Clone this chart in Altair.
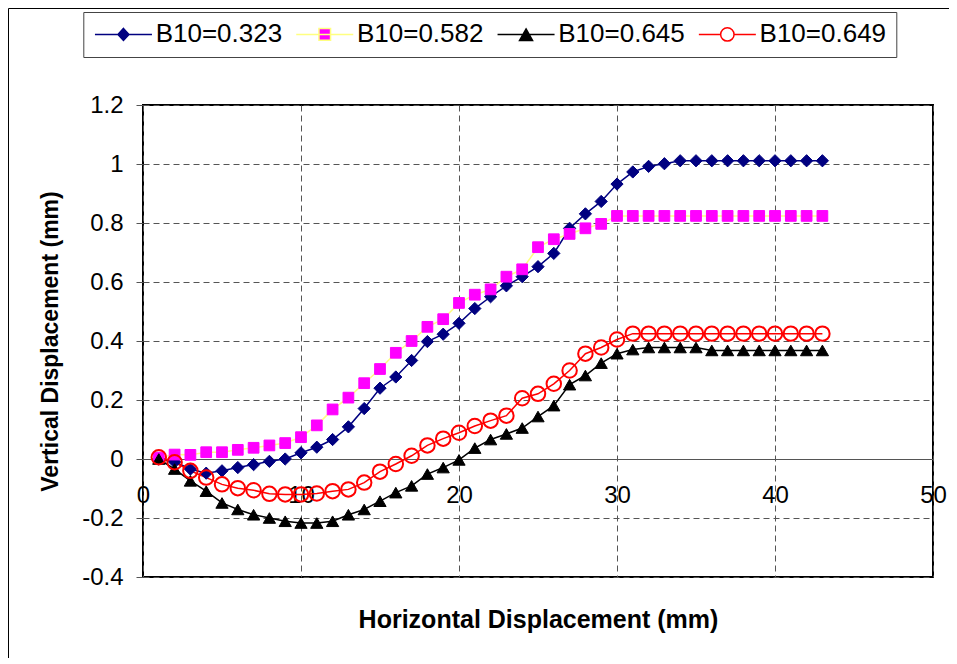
import altair as alt
import pandas as pd

series_names = ["B10=0.323", "B10=0.582", "B10=0.645", "B10=0.649"]
x_vals = list(range(1, 44))

b323 = [0.0, -0.01, -0.034, -0.048, -0.04, -0.029, -0.019, -0.008, 0.0, 0.021,
        0.04, 0.066, 0.109, 0.171, 0.24, 0.278, 0.334, 0.398, 0.423, 0.46,
        0.51, 0.55, 0.587, 0.618, 0.652, 0.697, 0.782, 0.831, 0.873, 0.932,
        0.973, 0.992, 1.001, 1.011, 1.011, 1.011, 1.011, 1.011, 1.011, 1.011,
        1.011, 1.011, 1.011]
b582 = [0.005, 0.015, 0.014, 0.023, 0.023, 0.031, 0.038, 0.046, 0.054, 0.074,
        0.114, 0.168, 0.208, 0.257, 0.305, 0.36, 0.4, 0.448, 0.474, 0.529,
        0.557, 0.575, 0.618, 0.643, 0.718, 0.745, 0.763, 0.782, 0.797, 0.824,
        0.824, 0.824, 0.824, 0.824, 0.824, 0.824, 0.824, 0.824, 0.824, 0.824,
        0.824, 0.824, 0.824]
b645 = [0.0, -0.034, -0.074, -0.109, -0.149, -0.171, -0.189, -0.2, -0.211, -0.217,
        -0.217, -0.211, -0.189, -0.171, -0.143, -0.114, -0.091, -0.051, -0.029, -0.003,
        0.037, 0.066, 0.085, 0.105, 0.144, 0.181, 0.252, 0.283, 0.325, 0.357,
        0.371, 0.378, 0.378, 0.378, 0.378, 0.368, 0.368, 0.368, 0.368, 0.368,
        0.368, 0.368, 0.368]
b649 = [0.006, -0.011, -0.04, -0.063, -0.086, -0.099, -0.106, -0.118, -0.12, -0.12,
        -0.117, -0.109, -0.103, -0.08, -0.043, -0.017, 0.011, 0.046, 0.069, 0.089,
        0.112, 0.13, 0.147, 0.206, 0.221, 0.255, 0.3, 0.357, 0.378, 0.405,
        0.425, 0.425, 0.425, 0.425, 0.425, 0.425, 0.425, 0.425, 0.425, 0.425,
        0.425, 0.425, 0.425]

x_ticks = [0, 10, 20, 30, 40, 50]
y_ticks = [-0.4, -0.2, 0, 0.2, 0.4, 0.6, 0.8, 1.0, 1.2]

line_colors = ["#000080", "#FFFF80", "#000000", "#FF0000"]
marker_fill = ["#000080", "#FF00FF", "#000000", "transparent"]
marker_stroke = ["#000080", "#FF00FF", "#000000", "#FF0000"]
marker_shapes = ["diamond", "square", "triangle-up", "circle"]
marker_sizes = [150, 115, 150, 210]
marker_strokew = [1, 1, 1, 2]

# legend symbols: line + marker (path units of r = 10 px)
legend_paths = [
    "M-2.85,0H2.85M0,-0.6L0.55,0L0,0.6L-0.55,0Z",
    "M-2.85,0H2.85M-0.58,-0.58H0.58V0.58H-0.58Z",
    "M-2.85,0H2.85M0,-0.55L0.65,0.6H-0.65Z",
    "M-2.85,0H-0.67M0.67,0H2.85M0.67,0A0.67,0.67 0 1 1 -0.67,0A0.67,0.67 0 1 1 0.67,0Z",
]
legend_fill = ["#000080", "#FF00FF", "#000000", "white"]

rows = []
for name, vals in zip(series_names, [b323, b582, b645, b649]):
    for xv, yv in zip(x_vals, vals):
        rows.append({"x": xv, "y": yv, "series": name})
df = pd.DataFrame(rows)

FONT = "Liberation Sans"

x_enc = alt.X(
    "x:Q",
    scale=alt.Scale(domain=[0, 50], nice=False, zero=False),
    axis=alt.Axis(
        values=x_ticks, title="Horizontal Displacement (mm)", offset=-118,
        ticks=False, labelPadding=24, labelFlush=False, domainColor="#555", domainWidth=1,
        titleY=160, titleBaseline="middle", titleFontSize=25, labelFontSize=24,
        grid=True,
    ),
)
y_enc = alt.Y(
    "y:Q",
    scale=alt.Scale(domain=[-0.4, 1.2], nice=False, zero=False),
    axis=alt.Axis(
        values=y_ticks, title="Vertical Displacement (mm)", domain=False,
        tickSize=7, tickColor="#555", labelPadding=13,
        labelExpr="'' + round(datum.value*10)/10",
        titleX=-93, titleBaseline="middle", titleFontSize=23, labelFontSize=24,
    ),
)

legend = alt.Legend(
    title=None, orient="none", legendX=-59.7, legendY=-93, direction="horizontal",
    symbolSize=400, symbolOffset=17.75, labelOffset=19.2, columnPadding=10.3,
    padding=9.4, strokeColor="#444", labelFontSize=26, labelFont=FONT,
    labelColor="black", symbolStrokeWidth=1.5, symbolOpacity=1, labelLimit=300,
)

lines = alt.Chart(df).mark_line(strokeWidth=1.5).encode(
    x=x_enc, y=y_enc,
    color=alt.Color("series:N", scale=alt.Scale(domain=series_names, range=line_colors), legend=None),
)

points = alt.Chart(df).mark_point(opacity=1).encode(
    x=x_enc, y=y_enc,
    shape=alt.Shape("series:N", scale=alt.Scale(domain=series_names, range=marker_shapes), legend=None),
    fill=alt.Fill("series:N", scale=alt.Scale(domain=series_names, range=marker_fill), legend=None),
    stroke=alt.Stroke("series:N", scale=alt.Scale(domain=series_names, range=marker_stroke), legend=None),
    size=alt.Size("series:N", scale=alt.Scale(type="ordinal", domain=series_names, range=marker_sizes), legend=None),
    strokeWidth=alt.StrokeWidth("series:N", scale=alt.Scale(type="ordinal", domain=series_names, range=marker_strokew), legend=None),
)

# legend-only layer (draws no marks, carries the legend)
legend_layer = alt.Chart(df).transform_filter("false").mark_point(opacity=1, strokeWidth=1.5).encode(
    x=x_enc, y=y_enc,
    shape=alt.Shape("series:N", scale=alt.Scale(domain=series_names, range=legend_paths), legend=legend),
    fill=alt.Fill("series:N", scale=alt.Scale(domain=series_names, range=legend_fill), legend=legend),
    stroke=alt.Stroke("series:N", scale=alt.Scale(domain=series_names, range=line_colors), legend=legend),
)

border = alt.Chart(pd.DataFrame({"a": [0]})).mark_rect(
    fillOpacity=0, stroke="black", strokeWidth=1
).encode(
    x=alt.value(-134.5), x2=alt.value(2000), y=alt.value(-96.5), y2=alt.value(2000)
)

chart = alt.layer(border, lines, points, legend_layer).resolve_scale(
    shape="independent", fill="independent", stroke="independent"
).properties(
    width=790, height=472,
    autosize=alt.AutoSizeParams(type="none"),
    padding={"left": 135, "top": 97, "right": 16, "bottom": 81},
).configure_view(
    stroke="black", strokeWidth=2
).configure_axis(
    gridColor="#555", gridDash=[6, 4], gridWidth=1,
    labelFont=FONT, titleFont=FONT, labelColor="black", titleColor="black",
    titleFontWeight="bold",
)

chart.save("out.html", embed_options={"renderer": "svg", "actions": False})
